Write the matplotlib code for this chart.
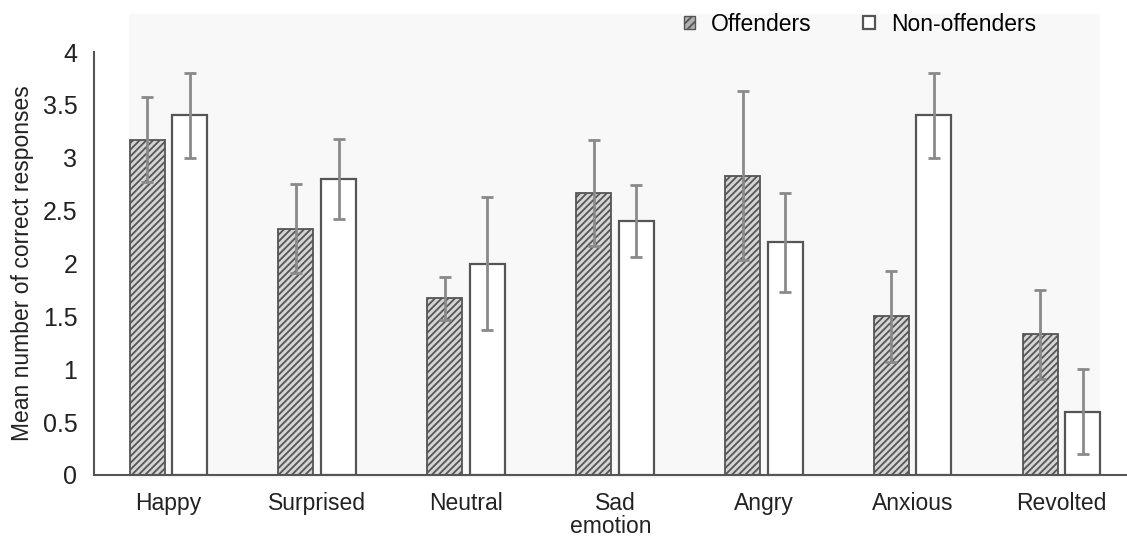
import numpy as np
import matplotlib
matplotlib.use('Agg')
import matplotlib.pyplot as plt
from matplotlib.patches import Rectangle, Patch

plt.rcParams['font.family'] = ['Liberation Sans', 'DejaVu Sans']
plt.rcParams['hatch.linewidth'] = 1.3

# Data
emotions = ['Happy', 'Surprised', 'Neutral', 'Sad', 'Angry', 'Anxious', 'Revolted']
offenders = [3.17, 2.33, 1.67, 2.67, 2.83, 1.50, 1.33]
offenders_err = [0.40, 0.42, 0.20, 0.50, 0.80, 0.43, 0.42]
non_offenders = [3.40, 2.80, 2.00, 2.40, 2.20, 3.40, 0.60]
non_offenders_err = [0.40, 0.38, 0.63, 0.34, 0.47, 0.40, 0.40]

x = np.arange(len(emotions))
width = 0.235
shift = 0.143

fig = plt.figure(figsize=(11.27, 5.4), dpi=100)
# faint grey backdrop seen behind the plot
fig.patches.append(Rectangle((129 / 1127, 1 - 478 / 540), (1100 - 129) / 1127, (478 - 14) / 540,
                             transform=fig.transFigure, facecolor='#f8f8f8', edgecolor='none', zorder=-1))
ax = fig.add_axes([94 / 1127, 65 / 540, 1 - 94 / 1127, 423 / 540])
ax.set_zorder(1)
ax.set_facecolor('none')

err_kw = dict(ecolor='#8a8a8a', elinewidth=2, capsize=4.5, capthick=2)
ax.bar(x - shift, offenders, width, color='#d4d4d4', edgecolor='#555555', hatch='/////',
       linewidth=1.3, zorder=2)
ax.bar(x + shift, non_offenders, width, color='white', edgecolor='#555555', linewidth=1.6, zorder=2)
ax.errorbar(x - shift, offenders, yerr=offenders_err, fmt='none', zorder=3, **err_kw)
ax.errorbar(x + shift, non_offenders, yerr=non_offenders_err, fmt='none', zorder=3, **err_kw)

ax.set_xlim(-0.5, 6.44)
ax.set_ylim(0, 4)
ax.set_yticks([0, 0.5, 1, 1.5, 2, 2.5, 3, 3.5, 4])
ax.set_yticklabels(['0', '0.5', '1', '1.5', '2', '2.5', '3', '3.5', '4'])
ax.set_xticks(x)
ax.set_xticklabels(emotions)
ax.tick_params(length=0, colors='#222222')
ax.tick_params(axis='x', labelsize=16.5, pad=12)
ax.tick_params(axis='y', labelsize=18, pad=12)
for s in ['top', 'right']:
    ax.spines[s].set_visible(False)
for s in ['left', 'bottom']:
    ax.spines[s].set_color('#555555')
    ax.spines[s].set_linewidth(1.5)

ax.set_ylabel('Mean number of correct responses', fontsize=16.5, color='#222222', labelpad=6)
ax.set_xlabel('emotion', fontsize=16.5, color='#222222', labelpad=0)

handles = [Patch(facecolor='#b0b0b0', edgecolor='#555555', hatch='////', label='Offenders'),
           Patch(facecolor='white', edgecolor='#555555', linewidth=1.6, label='Non-offenders')]
fig.legend(handles=handles, loc='upper left', bbox_to_anchor=(663 / 1127, 1.015), ncol=2,
           frameon=False, fontsize=16.5, handlelength=0.5, handleheight=0.5, handletextpad=0.7,
           columnspacing=2.25)

fig.savefig('out.png', dpi=100)
